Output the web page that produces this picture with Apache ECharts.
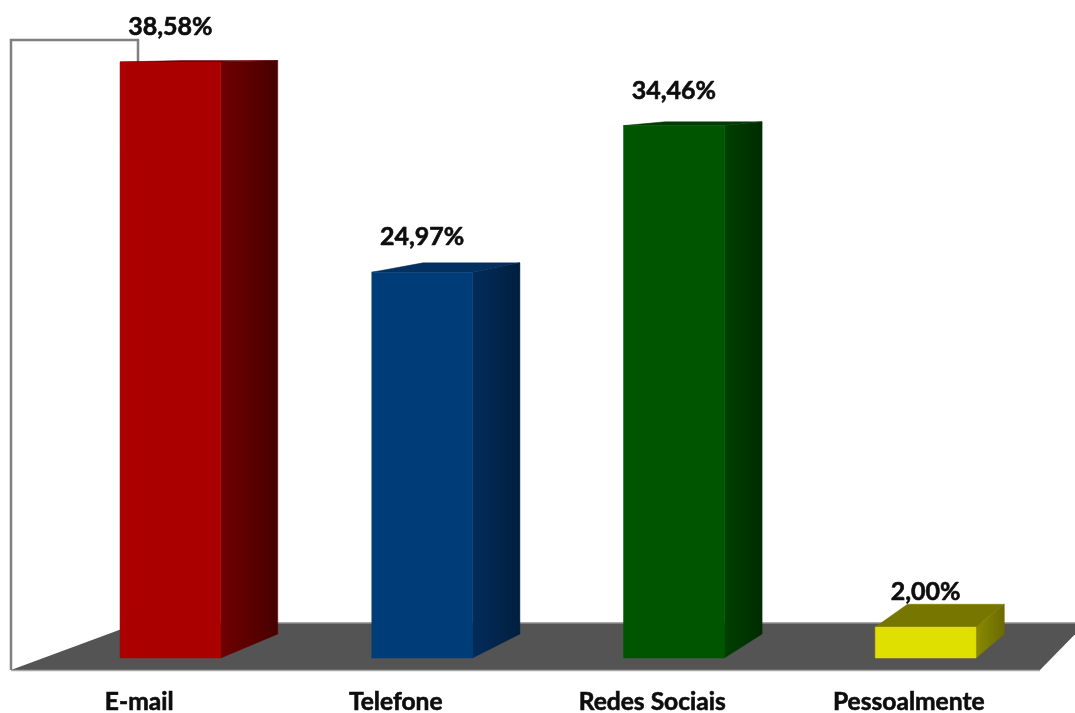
<!DOCTYPE html>
<html>
<head>
<meta charset="utf-8">
<style>html,body{margin:0;padding:0;background:#fff}#c{width:1075px;height:713px}</style>
<script src="https://cdn.jsdelivr.net/npm/echarts@6/dist/echarts.min.js"></script>
</head>
<body>
<div id="c"></div>
<script>
const categories = ['E-mail', 'Telefone', 'Redes Sociais', 'Pessoalmente'];
const values = [38.58, 24.97, 34.46, 2.00];
const frontColors = ['#ab0000', '#003c78', '#005600', '#e0e000'];
const sideStart = ['#700000', '#032c5c', '#004000', '#8a8a00'];
const sideEnd = ['#480000', '#001f3e', '#002c00', '#6a6a00'];
const topColors = ['#5c0000', '#04305f', '#003c00', '#767600'];

const FONT = 'bold 25px Lato, "Liberation Sans", sans-serif';
const K = 0.962, BX = 65.4, BY = 1;
const back = p => [K * p[0] + BX, K * p[1] + BY];

function renderBar(params, api) {
  const i = api.value(0), v = api.value(1);
  const c = api.coord([i, v]), base = api.coord([i, 0]);
  const w = api.size([1, 0])[0] * 0.4;
  const l = c[0] - w / 2, r = c[0] + w / 2, t = c[1], b = base[1];
  const fl = [l, t], fr = [r, t], br = [r, b];
  const poly = (points, fill, z2) => ({ type: 'polygon', shape: { points }, style: { fill, stroke: fill, lineWidth: 0.5 }, z2 });
  return {
    type: 'group',
    children: [
      poly([fl, back(fl), back(fr), fr], topColors[i], 1),
      poly([fr, back(fr), back(br), br], {
        type: 'linear', x: 0, y: 0, x2: 1, y2: 0,
        colorStops: [{ offset: 0, color: sideStart[i] }, { offset: 1, color: sideEnd[i] }]
      }, 2),
      poly([[l, t], [r, t], [r, b], [l, b]], frontColors[i], 3),
      {
        type: 'text', z2: 4,
        style: {
          text: v.toFixed(2).replace('.', ',') + '%',
          x: c[0], y: t - 35, textAlign: 'center', textVerticalAlign: 'middle',
          font: FONT, fill: '#0d0d0d', stroke: '#0d0d0d', lineWidth: 0.6
        }
      }
    ]
  };
}

function renderStage(params) {
  const s = params.coordSys;
  const x0 = s.x, y0 = s.y, x1 = s.x + s.width + 3, y1 = s.y + s.height;
  const backX = x0 + 127, backY = y1 - 47;
  return {
    type: 'group',
    children: [
      { type: 'polygon', shape: { points: [[x0, y1], [backX, backY], [x1 + 46, backY], [x1, y1]] },
        style: { fill: '#545454' } },
      { type: 'polyline', shape: { points: [[x0, y1 + 0.5], [x1, y1 + 0.5]] },
        style: { stroke: '#a8a8a8', lineWidth: 1.5, fill: null } },
      { type: 'polyline', shape: { points: [[backX, backY], [x1 + 46, backY]] },
        style: { stroke: '#8c8c8c', lineWidth: 1.5, fill: null } },
      { type: 'polyline', shape: { points: [[x0, y1], [x0, y0], [backX, y0], [backX, y0 + 24]] },
        style: { stroke: '#808080', lineWidth: 2.5, fill: null } }
    ]
  };
}

const chart = echarts.init(document.getElementById('c'), null, { renderer: 'canvas' });
chart.setOption({
  animation: false,
  backgroundColor: '#ffffff',
  grid: [
    { left: 44.5, right: 23.5, top: 40, bottom: 55, outerBoundsMode: 'none' },
    { left: 11, right: 38, top: 40, bottom: 43, outerBoundsMode: 'none' }
  ],
  xAxis: [
    { type: 'category', gridIndex: 0, data: categories, show: false },
    { type: 'category', gridIndex: 1, data: categories,
      axisLine: { show: false }, axisTick: { show: false },
      axisLabel: { margin: 20, color: '#0d0d0d', fontFamily: 'Lato, "Liberation Sans", sans-serif', fontWeight: 'bold', fontSize: 24.6, interval: 0, textBorderColor: '#0d0d0d', textBorderWidth: 0.6 } }
  ],
  yAxis: [
    { type: 'value', gridIndex: 0, min: 0, max: 40, show: false },
    { type: 'value', gridIndex: 1, min: 0, max: 40, show: false }
  ],
  series: [
    { type: 'custom', xAxisIndex: 1, yAxisIndex: 1, z: 1, silent: true, clip: false,
      renderItem: renderStage, data: [[0, 0]] },
    { type: 'custom', xAxisIndex: 0, yAxisIndex: 0, z: 2, clip: false,
      renderItem: renderBar, encode: { x: 0, y: 1 },
      data: values.map((v, i) => [i, v]) }
  ]
});
</script>
</body>
</html>
